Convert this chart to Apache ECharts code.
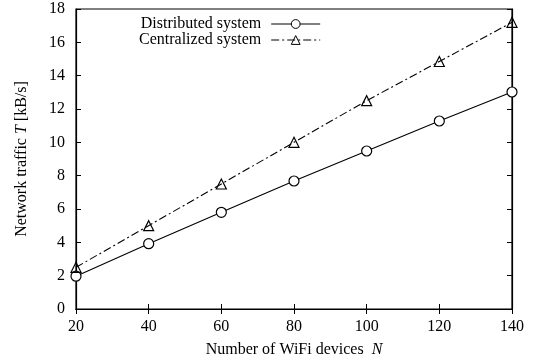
<!DOCTYPE html>
<html lang="en">
<head>
  <meta charset="UTF-8">
  <title>Network traffic</title>
  <script src="https://cdn.jsdelivr.net/npm/echarts@6/dist/echarts.min.js"></script>
  <style>
    html, body { margin: 0; padding: 0; background: #fff; }
    #main { width: 535px; height: 363px; }
  </style>
</head>
<body>
  <div id="main"></div>
</body>
<script>
  let devices = [20, 40, 60, 80, 100, 120, 140]
  let distributed = [1.97, 3.92, 5.8, 7.68, 9.48, 11.28, 13.02]
  let centralized = [2.5, 5.0, 7.5, 10.0, 12.5, 14.85, 17.2]

  let font = 'Liberation Serif'
  let fontSize = 16

  initChart()

  function pairs(xs, ys) {
    return xs.map(function (x, i) { return [x, ys[i]] })
  }

  function initChart() {
    let myChart = echarts.init(document.getElementById('main'))
    let tickStyle = { inside: true, length: 5, lineStyle: { color: '#000', width: 1 } }
    let lineAxis = { show: true, lineStyle: { color: '#000', width: 1.2 } }
    let nameStyle = {
      fontFamily: font, fontSize: fontSize, color: '#000',
      rich: { i: { fontFamily: font, fontSize: fontSize, fontStyle: 'italic', color: '#000' } }
    }
    let option = {
      animation: false,
      textStyle: { fontFamily: font },
      grid: { left: 76, right: 23, top: 9, bottom: 51, show: true, borderColor: '#000', borderWidth: 1.2 },
      legend: {
        orient: 'vertical',
        left: 134,
        top: 11,
        align: 'right',
        itemWidth: 49,
        itemHeight: 11,
        itemGap: 0,
        lineStyle: { width: 1 },
        itemStyle: { borderWidth: 1 },
        textStyle: {
          fontFamily: font, fontSize: fontSize, color: '#000',
          width: 122, align: 'right', lineHeight: 15, padding: [0, 5, 0, 0]
        },
        data: ['Distributed system', 'Centralized system']
      },
      xAxis: [{
        type: 'value',
        min: 20, max: 140, interval: 20,
        name: 'Number of WiFi devices  {i|N}',
        nameLocation: 'middle',
        nameGap: 33,
        nameTextStyle: nameStyle,
        axisLine: lineAxis,
        axisTick: tickStyle,
        axisLabel: { color: '#000', fontSize: fontSize, margin: 10 },
        splitLine: { show: false }
      }, {
        type: 'value', position: 'top',
        min: 20, max: 140, interval: 20,
        axisLine: lineAxis,
        axisTick: tickStyle,
        axisLabel: { show: false },
        splitLine: { show: false }
      }],
      yAxis: [{
        type: 'value',
        min: 0, max: 18, interval: 2,
        name: 'Network traffic {i|T} [kB/s]',
        nameLocation: 'middle',
        nameGap: 46,
        nameTextStyle: nameStyle,
        axisLine: lineAxis,
        axisTick: tickStyle,
        axisLabel: { color: '#000', fontSize: fontSize, margin: 11 },
        splitLine: { show: false }
      }, {
        type: 'value', position: 'right',
        min: 0, max: 18, interval: 2,
        axisLine: lineAxis,
        axisTick: tickStyle,
        axisLabel: { show: false },
        splitLine: { show: false }
      }],
      series: [{
        name: 'Distributed system',
        type: 'line',
        data: pairs(devices, distributed),
        symbol: 'circle',
        symbolSize: 10,
        itemStyle: { color: '#fff', borderColor: '#000', borderWidth: 1.2 },
        lineStyle: { color: '#000', width: 1.1 },
        z: 3
      }, {
        name: 'Centralized system',
        type: 'line',
        data: pairs(devices, centralized),
        symbol: 'triangle',
        symbolSize: 10,
        itemStyle: { color: 'rgba(255,255,255,0)', borderColor: '#000', borderWidth: 1.2 },
        lineStyle: { color: '#000', width: 1.1, type: [8, 3, 2, 3] },
        z: 3
      }]
    }
    myChart.setOption(option)
  }
</script>
</html>
